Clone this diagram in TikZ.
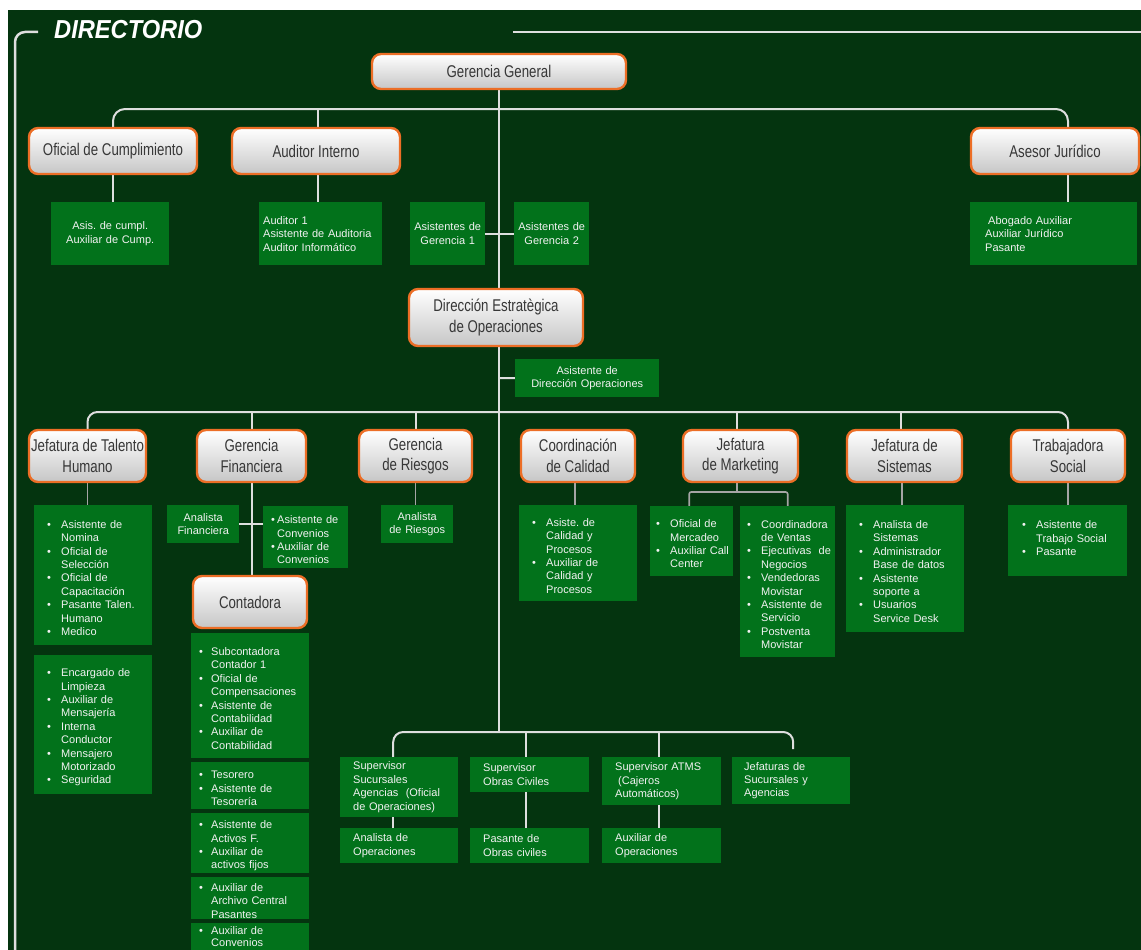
\documentclass[tikz,border=0pt]{standalone}
\usepackage{fontspec}
\setmainfont{Liberation Sans}
\newfontfamily\narrowfont{Liberation Sans}[FakeStretch=0.78]
\newfontfamily\titlefont{Liberation Sans}[FakeStretch=0.91]
\usepackage{tikz}
\usetikzlibrary{positioning,backgrounds}
\frenchspacing

\definecolor{fondo}{RGB}{4,52,15}
\definecolor{verdecaja}{RGB}{2,114,27}
\definecolor{borde}{RGB}{236,110,38}
\definecolor{grisbajo}{RGB}{198,198,198}
\definecolor{textojefe}{RGB}{55,55,55}
\definecolor{lineaclara}{RGB}{222,222,222}
\definecolor{lineagris}{RGB}{165,165,165}

\newlength{\itmpad}
\newlength{\itmhang}
\newcommand{\setitm}[2]{\setlength{\itmpad}{#1}\setlength{\itmhang}{#2}}
\newcommand{\itm}[1]{\par\noindent\hangindent=\itmhang\hangafter=1%
  \makebox[\itmhang][l]{\hspace*{\itmpad}\textbullet}{\let\\\newline #1}\par}

\tikzset{
  jefe/.style={draw=borde, line width=2.4pt, rounded corners=9pt, top color=white, bottom color=grisbajo,
    text=textojefe, font=\narrowfont\fontsize{17}{20.5}\selectfont, align=center, inner sep=0pt},
  cargo/.style={fill=verdecaja, text=white!95!black, font=\fontsize{11}{13.4}\selectfont, inner sep=0pt, anchor=north west},
  linea/.style={draw=lineaclara, line width=2pt},
  linea2/.style={draw=lineagris, line width=1.6pt},
  marco/.style={draw=lineaclara, line width=2.5pt},
}

\begin{document}
\begin{tikzpicture}[x=1pt, y=-1pt]
\useasboundingbox (0,0) rectangle (1141,950);
\clip (0,0) rectangle (1141,950);
\begin{scope}[on background layer]
\fill[white] (0,0) rectangle (1141,950);
\fill[fondo] (8,10) rectangle (1141,950);
\end{scope}

% titulo y marco
\node[anchor=base west, inner sep=0pt, text=white, font=\titlefont\bfseries\itshape\fontsize{26}{26}\selectfont] (titulo) at (54,39) {DIRECTORIO};
\draw[marco, rounded corners=10pt] (38,32) -- (15,32) -- (15,950);
\draw[marco] (513,32) -- (1141,32);

% nivel 1
\node[jefe, minimum width=254pt, minimum height=35pt] (gg) at (499,71.5) {Gerencia General};
\node[jefe, minimum width=168pt, minimum height=46pt] (ofc) at (113,151) {Oficial de Cumplimiento};
\node[jefe, minimum width=168pt, minimum height=46pt] (aud) at (316,151) {Auditor Interno};
\node[jefe, minimum width=168pt, minimum height=46pt] (ase) at (1055,151) {Asesor Jurídico};

\node[cargo, minimum width=118pt, minimum height=63pt, text width=116pt, align=center] (asc) at (51,202) {Asis. de cumpl.\\Auxiliar de Cump.};
\node[cargo, minimum width=123pt, minimum height=63pt, text width=115pt, align=left] (aud1) at (259,202) {Auditor 1\\Asistente de Auditoria\\Auditor Informático};
\node[cargo, minimum width=75pt, minimum height=63pt, text width=73pt, align=center] (ag1) at (410,202) {Asistentes de\\Gerencia 1};
\node[cargo, minimum width=75pt, minimum height=63pt, text width=73pt, align=center] (ag2) at (514,202) {Asistentes de\\Gerencia 2};
\node[cargo, minimum width=167pt, minimum height=63pt, text width=137pt, align=left] (abo) at (970,202) {\hspace*{3pt}Abogado Auxiliar\\Auxiliar Jurídico\\Pasante};

% direccion
\node[jefe, minimum width=174pt, minimum height=57pt] (dir) at (496,317.5) {Dirección Estratègica\\de Operaciones};
\node[cargo, minimum width=144pt, minimum height=38pt, text width=142pt, align=center] (adir) at (515,359) {Asistente de\\Dirección Operaciones};

% nivel 2
\node[jefe, minimum width=117pt, minimum height=52pt] (th) at (87.5,456) {Jefatura de Talento\\Humano};
\node[jefe, minimum width=109pt, minimum height=52pt] (gf) at (251.5,456) {Gerencia\\Financiera};
\node[jefe, minimum width=113pt, minimum height=52pt] (gr) at (415.5,456) {Gerencia\\de Riesgos};
\node[jefe, minimum width=114pt, minimum height=52pt] (cc) at (578,456) {Coordinación\\de Calidad};
\node[jefe, minimum width=115pt, minimum height=52pt] (jm) at (740.5,456) {Jefatura\\de Marketing};
\node[jefe, minimum width=115pt, minimum height=52pt] (js) at (904.5,456) {Jefatura de\\Sistemas};
\node[jefe, minimum width=114pt, minimum height=52pt] (ts) at (1068,456) {Trabajadora\\Social};

\node[cargo, minimum width=118pt, minimum height=140pt, text width=116pt, align=left] (thl1) at (34,505) {\setitm{12pt}{26pt}%
  \itm{Asistente de\\Nomina}\itm{Oficial de\\Selección}\itm{Oficial de\\Capacitación}\itm{Pasante Talen.\\Humano}\itm{Medico}};
\node[cargo, minimum width=118pt, minimum height=139pt, text width=116pt, align=left] (thl2) at (34,655) {\setitm{12pt}{26pt}%
  \itm{Encargado de\\Limpieza}\itm{Auxiliar de\\Mensajería}\itm{Interna\\Conductor}\itm{Mensajero\\Motorizado}\itm{Seguridad}};

\node[cargo, minimum width=72pt, minimum height=38pt, text width=70pt, align=center] (afin) at (167,505) {Analista\\Financiera};
\node[cargo, minimum width=85pt, minimum height=62pt, text width=83pt, align=left] (aconv) at (263,506) {\setitm{7pt}{13pt}%
  \itm{Asistente de\\Convenios}\itm{Auxiliar de\\Convenios}};
\node[jefe, minimum width=114pt, minimum height=52pt] (con) at (250,602) {Contadora};
\node[cargo, minimum width=118pt, minimum height=125pt, text width=116pt, align=left] (cl1) at (191,633) {\setitm{7pt}{19pt}%
  \itm{Subcontadora\\Contador 1}\itm{Oficial de\\Compensaciones}\itm{Asistente de\\Contabilidad}\itm{Auxiliar de\\Contabilidad}};
\node[cargo, minimum width=118pt, minimum height=47pt, text width=116pt, align=left] (cl2) at (191,762) {\setitm{7pt}{19pt}%
  \itm{Tesorero}\itm{Asistente de\\Tesorería}};
\node[cargo, minimum width=118pt, minimum height=60pt, text width=116pt, align=left] (cl3) at (191,813) {\setitm{7pt}{19pt}%
  \itm{Asistente de\\Activos F.}\itm{Auxiliar de\\activos fijos}};
\node[cargo, minimum width=118pt, minimum height=42pt, text width=116pt, align=left] (cl4) at (191,877) {\setitm{7pt}{19pt}%
  \itm{Auxiliar de\\Archivo Central\\Pasantes}};
\fill[verdecaja] (191,935) rectangle (309,950);
\node[cargo, minimum width=118pt, minimum height=20pt, text width=116pt, align=left, font=\fontsize{11}{11.8}\selectfont] (cl5) at (191,922.5) {\setitm{7pt}{19pt}%
  \itm{Auxiliar de\\Convenios}};

\node[cargo, minimum width=72pt, minimum height=38pt, text width=70pt, align=center] (ar) at (381,505) {Analista\\de Riesgos};
\node[cargo, minimum width=118pt, minimum height=96pt, text width=116pt, align=left] (ccl) at (519,505) {\setitm{12pt}{26pt}%
  \itm{Asiste. de\\Calidad y\\Procesos}\itm{Auxiliar de\\Calidad y\\Procesos}};
\node[cargo, minimum width=83pt, minimum height=70pt, text width=81pt, align=left] (mof) at (650,506) {\setitm{5pt}{19pt}%
  \itm{Oficial de\\Mercadeo}\itm{Auxiliar Call\\Center}};
\node[cargo, minimum width=95pt, minimum height=151pt, text width=93pt, align=left] (mco) at (740,506) {\setitm{6pt}{20pt}%
  \itm{Coordinadora\\de Ventas}\itm{Ejecutivas~ de\\Negocios}\itm{Vendedoras\\Movistar}\itm{Asistente de\\Servicio}\itm{Postventa\\Movistar}};
\node[cargo, minimum width=118pt, minimum height=127pt, text width=116pt, align=left] (sisl) at (846,505) {\setitm{12pt}{26pt}%
  \itm{Analista de\\Sistemas}\itm{Administrador\\Base de datos}\itm{Asistente\\soporte a}\itm{Usuarios\\Service Desk}};
\node[cargo, minimum width=119pt, minimum height=71pt, text width=117pt, align=left] (tsl) at (1008,505) {\setitm{13pt}{27pt}%
  \itm{Asistente de\\Trabajo Social}\itm{Pasante}\vspace*{10pt}};

% nivel 3
\node[cargo, minimum width=118pt, minimum height=60pt, text width=92pt, align=left] (ssa) at (340,757) {Supervisor\\Sucursales\\Agencias~ (Oficial\\de Operaciones)};
\node[cargo, minimum width=119pt, minimum height=35pt, text width=93pt, align=left] (sob) at (470,757) {Supervisor\\Obras Civiles};
\node[cargo, minimum width=119pt, minimum height=48pt, text width=93pt, align=left] (satm) at (602,757) {Supervisor ATMS\\\hspace*{3pt}(Cajeros\\Automáticos)};
\node[cargo, minimum width=118pt, minimum height=47pt, text width=94pt, align=left] (jsa) at (732,757) {Jefaturas de\\Sucursales y\\Agencias};
\node[cargo, minimum width=118pt, minimum height=35pt, text width=92pt, align=left] (aop) at (340,828) {Analista de\\Operaciones};
\node[cargo, minimum width=119pt, minimum height=35pt, text width=93pt, align=left] (pob) at (470,828) {Pasante de\\Obras civiles};
\node[cargo, minimum width=119pt, minimum height=35pt, text width=93pt, align=left] (aux) at (602,828) {Auxiliar de\\Operaciones};

% conectores
\coordinate (bus1) at (499,109);
\coordinate (bdir) at (499,378);
\coordinate (bus2) at (499,412);
\coordinate (bus3) at (499,732);
\coordinate (bmk) at (737,492);
\begin{scope}[on background layer]
\draw[linea] (gg.south) -- (bus3);
\draw[linea, rounded corners=12pt] (ofc.north) |- (bus1) -| ([xshift=13pt]ase.north);
\draw[linea] ([xshift=2pt]aud.north) -- ([xshift=2pt]aud.north |- bus1);
\draw[linea] (ofc.south) -- (ofc.south |- asc.north);
\draw[linea] ([xshift=2pt]aud.south) -- ([xshift=2pt]aud.south |- aud1.north);
\draw[linea] ([xshift=13pt]ase.south) -- ([xshift=13pt]ase.south |- abo.north);
\draw[linea] (ag1.east) -- (ag2.west);
\draw[linea] (bdir) -- (adir.west);

\draw[linea, rounded corners=10pt] (th.north) |- (bus2) -| (ts.north);
\draw[linea] (gf.north) -- (gf.north |- bus2);
\draw[linea] (gr.north) -- (gr.north |- bus2);
\draw[linea] ([xshift=-3.5pt]jm.north) -- ([xshift=-3.5pt]jm.north |- bus2);
\draw[linea] ([xshift=-3.5pt]js.north) -- ([xshift=-3.5pt]js.north |- bus2);

\draw[linea2] (th.south) -- (th.south |- thl1.north);
\draw[linea] (gf.south) -- (gf.south |- con.north);
\draw[linea] (afin.east) -- (afin.east -| aconv.west);
\draw[linea2] (gr.south) -- (gr.south |- ar.north);
\draw[linea2] ([xshift=-3pt]cc.south) -- ([xshift=-3pt]cc.south |- ccl.north);
\draw[linea2] ([xshift=-3.5pt]jm.south) -- (bmk);
\draw[linea2, rounded corners=2pt] ([xshift=-2.5pt]mof.north) |- (bmk) -| (mco.north);
\draw[linea2] ([xshift=-2.5pt]js.south) -- ([xshift=-2.5pt]js.south |- sisl.north);
\draw[linea2] (ts.south) -- (ts.south |- tsl.north);

\draw[linea, rounded corners=10pt] ([xshift=-6pt]ssa.north) |- (bus3) -| ([xshift=2pt,yshift=8pt]jsa.north);
\draw[linea] ([xshift=-3.5pt]sob.north) -- ([xshift=-3.5pt]sob.north |- bus3);
\draw[linea] ([xshift=-2.5pt]satm.north) -- ([xshift=-2.5pt]satm.north |- bus3);
\draw[linea] ([xshift=-6pt]ssa.south) -- ([xshift=-6pt]aop.north);
\draw[linea] ([xshift=-3.5pt]sob.south) -- ([xshift=-3.5pt]pob.north);
\draw[linea] ([xshift=-2.5pt]satm.south) -- ([xshift=-2.5pt]aux.north);
\end{scope}
\end{tikzpicture}
\end{document}
